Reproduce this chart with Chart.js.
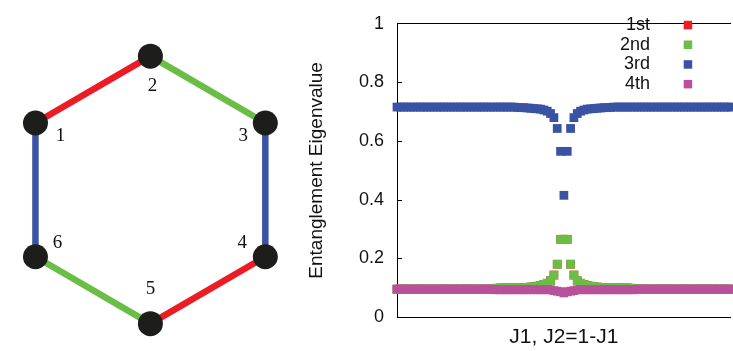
<!DOCTYPE html>
<html>
<head>
<meta charset="utf-8">
<script src="https://cdn.jsdelivr.net/npm/chart.js@4"></script>
<style>
  html, body { margin: 0; background: #fff; overflow: hidden; }
  #ring { position: absolute; left: 0; top: 0; }
  #spectrum { position: absolute; left: 290px; top: 0; }
</style>
</head>
<body>
<canvas id="ring" width="310" height="351"></canvas>
<canvas id="spectrum" width="447" height="351"></canvas>
<script>
// hexagon sites (unit hexagon, pointy top), numbered 1..6
const siteLabels = ['1', '2', '3', '4', '5', '6'];
const siteX = [-0.866, 0, 0.866, 0.866, 0, -0.866];
const siteY = [0.5, 1, 0.5, -0.5, -1, -0.5];
const bonds = [[0, 1], [1, 2], [2, 3], [3, 4], [4, 5], [5, 0]];

// J1 grid
const j1 = [
  0, 0.01, 0.02, 0.03, 0.04, 0.05, 0.06, 0.07, 0.08, 0.09,
  0.1, 0.11, 0.12, 0.13, 0.14, 0.15, 0.16, 0.17, 0.18, 0.19,
  0.2, 0.21, 0.22, 0.23, 0.24, 0.25, 0.26, 0.27, 0.28, 0.29,
  0.3, 0.31, 0.32, 0.33, 0.34, 0.35, 0.36, 0.37, 0.38, 0.39,
  0.4, 0.41, 0.42, 0.43, 0.44, 0.45, 0.46, 0.47, 0.48, 0.49,
  0.5, 0.51, 0.52, 0.53, 0.54, 0.55, 0.56, 0.57, 0.58, 0.59,
  0.6, 0.61, 0.62, 0.63, 0.64, 0.65, 0.66, 0.67, 0.68, 0.69,
  0.7, 0.71, 0.72, 0.73, 0.74, 0.75, 0.76, 0.77, 0.78, 0.79,
  0.8, 0.81, 0.82, 0.83, 0.84, 0.85, 0.86, 0.87, 0.88, 0.89,
  0.9, 0.91, 0.92, 0.93, 0.94, 0.95, 0.96, 0.97, 0.98, 0.99,
  1
];

const seriesNames = ['1st', '2nd', '3rd', '4th'];

// 1st eigenvalue (hidden under 2nd)
const first = [
  0.095, 0.095, 0.095, 0.095, 0.095, 0.095, 0.095, 0.095, 0.095, 0.095,
  0.095, 0.095, 0.095, 0.095, 0.095, 0.095, 0.095, 0.095, 0.095, 0.095,
  0.095, 0.095, 0.095, 0.095, 0.095, 0.095, 0.095, 0.095, 0.095, 0.097,
  0.098, 0.099, 0.099, 0.099, 0.099, 0.099, 0.099, 0.099, 0.099, 0.101,
  0.102, 0.103, 0.105, 0.107, 0.111, 0.115, 0.124, 0.143, 0.18, 0.265,
  0.265,
  0.265, 0.18, 0.143, 0.124, 0.115, 0.111, 0.107, 0.105, 0.103, 0.102,
  0.101, 0.099, 0.099, 0.099, 0.099, 0.099, 0.099, 0.099, 0.099, 0.098,
  0.097, 0.095, 0.095, 0.095, 0.095, 0.095, 0.095, 0.095, 0.095, 0.095,
  0.095, 0.095, 0.095, 0.095, 0.095, 0.095, 0.095, 0.095, 0.095, 0.095,
  0.095, 0.095, 0.095, 0.095, 0.095, 0.095, 0.095, 0.095, 0.095, 0.095
];

const second = [
  0.095, 0.095, 0.095, 0.095, 0.095, 0.095, 0.095, 0.095, 0.095, 0.095,
  0.095, 0.095, 0.095, 0.095, 0.095, 0.095, 0.095, 0.095, 0.095, 0.095,
  0.095, 0.095, 0.095, 0.095, 0.095, 0.095, 0.095, 0.095, 0.095, 0.097,
  0.098, 0.099, 0.099, 0.099, 0.099, 0.099, 0.099, 0.099, 0.099, 0.101,
  0.102, 0.103, 0.105, 0.107, 0.111, 0.115, 0.124, 0.143, 0.18, 0.265,
  0.265,
  0.265, 0.18, 0.143, 0.124, 0.115, 0.111, 0.107, 0.105, 0.103, 0.102,
  0.101, 0.099, 0.099, 0.099, 0.099, 0.099, 0.099, 0.099, 0.099, 0.098,
  0.097, 0.095, 0.095, 0.095, 0.095, 0.095, 0.095, 0.095, 0.095, 0.095,
  0.095, 0.095, 0.095, 0.095, 0.095, 0.095, 0.095, 0.095, 0.095, 0.095,
  0.095, 0.095, 0.095, 0.095, 0.095, 0.095, 0.095, 0.095, 0.095, 0.095
];

const third = [
  0.716, 0.716, 0.716, 0.716, 0.716, 0.716, 0.716, 0.716, 0.716, 0.716,
  0.716, 0.716, 0.716, 0.716, 0.716, 0.716, 0.716, 0.716, 0.716, 0.716,
  0.716, 0.716, 0.716, 0.716, 0.716, 0.716, 0.716, 0.716, 0.716, 0.716,
  0.716, 0.716, 0.716, 0.716, 0.716, 0.716, 0.715, 0.714, 0.714, 0.713,
  0.712, 0.711, 0.710, 0.709, 0.706, 0.702, 0.694, 0.68, 0.643, 0.565,
  0.415,
  0.565, 0.643, 0.68, 0.694, 0.702, 0.706, 0.709, 0.710, 0.711, 0.712,
  0.713, 0.714, 0.714, 0.715, 0.716, 0.716, 0.716, 0.716, 0.716, 0.716,
  0.716, 0.716, 0.716, 0.716, 0.716, 0.716, 0.716, 0.716, 0.716, 0.716,
  0.716, 0.716, 0.716, 0.716, 0.716, 0.716, 0.716, 0.716, 0.716, 0.716,
  0.716, 0.716, 0.716, 0.716, 0.716, 0.716, 0.716, 0.716, 0.716, 0.716
];

const fourth = [
  0.095, 0.095, 0.095, 0.095, 0.095, 0.095, 0.095, 0.095, 0.095, 0.095,
  0.095, 0.095, 0.095, 0.095, 0.095, 0.095, 0.095, 0.095, 0.095, 0.095,
  0.095, 0.095, 0.095, 0.095, 0.095, 0.095, 0.095, 0.095, 0.095, 0.093,
  0.093, 0.093, 0.093, 0.093, 0.093, 0.093, 0.093, 0.093, 0.093, 0.093,
  0.093, 0.093, 0.093, 0.093, 0.093, 0.093, 0.093, 0.090, 0.088, 0.086,
  0.082,
  0.086, 0.088, 0.090, 0.093, 0.093, 0.093, 0.093, 0.093, 0.093, 0.093,
  0.093, 0.093, 0.093, 0.093, 0.093, 0.093, 0.093, 0.093, 0.093, 0.093,
  0.093, 0.095, 0.095, 0.095, 0.095, 0.095, 0.095, 0.095, 0.095, 0.095,
  0.095, 0.095, 0.095, 0.095, 0.095, 0.095, 0.095, 0.095, 0.095, 0.095,
  0.095, 0.095, 0.095, 0.095, 0.095, 0.095, 0.095, 0.095, 0.095, 0.095
];

const yTickValues = [0, 0.2, 0.4, 0.6, 0.8, 1];

// styles
const bondColors = ['#ec1c24', '#6abd45', '#3a53a4', '#ec1c24', '#6abd45', '#3a53a4'];
const seriesColors = ['#ee1d24', '#6bbd45', '#3953a4', '#b8519b'];
const labelShift = [[25, 13], [2, 30], [-22, 13], [-23, -14], [0, -35], [22, -14]];

Chart.defaults.font.family = '"Liberation Sans", Arial, sans-serif';

// ---------- hexagon ----------
const sitePoints = siteX.map((x, i) => ({ x: x, y: siteY[i] }));

const siteNames = {
  id: 'siteNames',
  afterDraw(chart) {
    const ctx = chart.ctx;
    ctx.save();
    ctx.font = '19px "Liberation Serif", "DejaVu Serif", serif';
    ctx.fillStyle = '#111';
    ctx.textAlign = 'center';
    ctx.textBaseline = 'middle';
    siteLabels.forEach((name, i) => {
      const px = chart.scales.x.getPixelForValue(siteX[i]) + labelShift[i][0];
      const py = chart.scales.y.getPixelForValue(siteY[i]) + labelShift[i][1];
      ctx.fillText(name, px, py);
    });
    ctx.restore();
  }
};

new Chart(document.getElementById('ring'), {
  type: 'scatter',
  data: {
    datasets: [
      {
        data: sitePoints,
        backgroundColor: '#1d1d1b',
        pointRadius: 12.5,
        pointBorderWidth: 0,
        borderWidth: 0,
        clip: false,
        order: 0
      },
      ...bonds.map((b, k) => ({
        data: [sitePoints[b[0]], sitePoints[b[1]]],
        showLine: true,
        borderColor: bondColors[k],
        borderWidth: 6.5,
        pointRadius: 0,
        clip: false,
        order: 1
      }))
    ]
  },
  options: {
    responsive: false,
    animation: false,
    events: [],
    plugins: { legend: { display: false }, tooltip: { enabled: false } },
    scales: {
      x: { type: 'linear', display: false, min: -1.039, max: 1.1085 },
      y: { type: 'linear', display: false, min: -1.111, max: 1.3264 }
    }
  },
  plugins: [siteNames]
});

// ---------- eigenvalue plot ----------
const toPoints = vals => vals.map((v, i) => ({ x: j1[i], y: v }));
const seriesData = [first, second, third, fourth];

// small ticks pointing into the plot
const inwardTicks = {
  id: 'inwardTicks',
  beforeDatasetsDraw(chart) {
    const { ctx, chartArea, scales } = chart;
    ctx.save();
    ctx.strokeStyle = '#000';
    ctx.lineWidth = 1;
    yTickValues.slice(1, -1).forEach(v => {
      const py = Math.round(scales.y.getPixelForValue(v)) + 0.5;
      ctx.beginPath();
      ctx.moveTo(chartArea.left, py);
      ctx.lineTo(chartArea.left + 5, py);
      ctx.stroke();
    });
    ctx.restore();
  }
};

// key in the top right: text, then a coloured square
const keyBox = {
  id: 'keyBox',
  afterDraw(chart) {
    const ctx = chart.ctx;
    ctx.save();
    ctx.font = '18px "Liberation Sans", Arial, sans-serif';
    ctx.textAlign = 'right';
    ctx.textBaseline = 'middle';
    seriesNames.forEach((name, k) => {
      const y = 25 + k * 19.7;
      ctx.fillStyle = '#111';
      ctx.fillText(name, 360, y);
      ctx.fillStyle = seriesColors[k];
      ctx.fillRect(393.7, y - 4.2, 8.5, 8.5);
    });
    ctx.restore();
  }
};

new Chart(document.getElementById('spectrum'), {
  type: 'scatter',
  data: {
    datasets: seriesData.map((vals, k) => ({
      label: seriesNames[k],
      data: toPoints(vals),
      backgroundColor: seriesColors[k],
      pointStyle: 'rect',
      pointRadius: 6.2,
      pointBorderWidth: 0,
      borderWidth: 0,
      clip: false,
      order: 4 - k
    }))
  },
  options: {
    responsive: false,
    animation: false,
    events: [],
    layout: { padding: { top: 11, right: 0, bottom: 0, left: 0 } },
    plugins: { legend: { display: false }, tooltip: { enabled: false } },
    scales: {
      x: {
        type: 'linear',
        position: 'bottom',
        min: 0,
        max: 1,
        ticks: { display: false },
        grid: { drawOnChartArea: false, drawTicks: false },
        border: { color: '#000', width: 1 },
        title: {
          display: true,
          text: 'J1, J2=1-J1',
          color: '#111',
          font: { size: 21 },
          padding: { top: 0, bottom: 1 }
        },
        afterFit: s => { s.height = 34; }
      },
      x2: {
        type: 'linear',
        position: 'top',
        min: 0,
        max: 1,
        ticks: { display: false },
        grid: { drawOnChartArea: false, drawTicks: false },
        border: { color: '#000', width: 1 },
        afterFit: s => { s.height = 0; }
      },
      y: {
        type: 'linear',
        min: 0,
        max: 1,
        afterBuildTicks: s => { s.ticks = yTickValues.map(v => ({ value: v })); },
        ticks: {
          color: '#111',
          font: { size: 18 },
          padding: 13,
          callback: v => String(v)
        },
        grid: { drawOnChartArea: false, drawTicks: false },
        border: { color: '#000', width: 1 },
        title: {
          display: true,
          text: 'Entanglement Eigenvalue',
          color: '#111',
          font: { size: 19 },
          padding: { top: 15, bottom: 0 }
        },
        afterFit: s => { s.width = 107; }
      }
    }
  },
  plugins: [inwardTicks, keyBox]
});
</script>
</body>
</html>
